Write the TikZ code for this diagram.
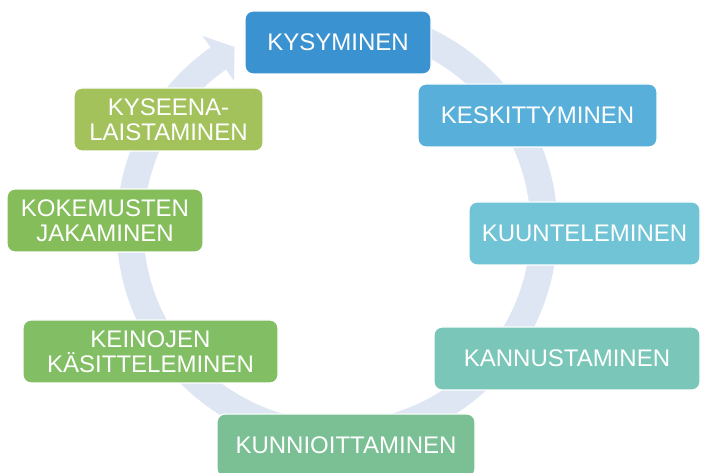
\documentclass[tikz,border=0pt]{standalone}
\usepackage{fontspec}
\setmainfont{Liberation Sans}
\usetikzlibrary{calc}
\definecolor{cA}{HTML}{3A93D0}
\definecolor{cB}{HTML}{58B0DA}
\definecolor{cC}{HTML}{70C4D6}
\definecolor{cD}{HTML}{7AC6B8}
\definecolor{cE}{HTML}{7AC094}
\definecolor{cF}{HTML}{82BE64}
\definecolor{cG}{HTML}{84BD5A}
\definecolor{cH}{HTML}{A3C25C}
\definecolor{ringc}{HTML}{DEE6F4}
\begin{document}
\begin{tikzpicture}[x=1pt,y=1pt,
  stepbox/.style={rounded corners=8pt, draw=white, line width=1.2pt, text=white,
    align=center, font=\fontsize{24}{25}\selectfont, inner sep=0pt,
    minimum height=63pt}]
\useasboundingbox (0,0) rectangle (701,473);
\coordinate (C) at (337,245);
% circular arrow
\fill[ringc] ($(C)+(75:220.5)$) arc[start angle=75, end angle=-235, radius=220.5]
  -- ($(C)+(-235:234.5)$) -- ($(C)+(119.5:208)$) -- ($(C)+(-235:179.5)$)
  -- ($(C)+(-235:193.5)$) arc[start angle=-235, end angle=75, radius=193.5] -- cycle;
% boxes
\node[stepbox, fill=cA, minimum width=186pt] (n1) at (338,430.5) {KYSYMINEN};
\node[stepbox, fill=cB, minimum width=239pt] (n2) at (537.5,357.5) {KESKITTYMINEN};
\node[stepbox, fill=cC, minimum width=231pt] (n3) at (584.5,239.5) {KUUNTELEMINEN};
\node[stepbox, fill=cD, minimum width=266pt] (n4) at (567,114.5) {KANNUSTAMINEN};
\node[stepbox, fill=cE, minimum width=258pt] (n5) at (346,27.5) {KUNNIOITTAMINEN};
\node[stepbox, fill=cF, minimum width=255pt] (n6) at (150.5,121.5) {KEINOJEN\\KÄSITTELEMINEN};
\node[stepbox, fill=cG, minimum width=196pt] (n7) at (105,252.5) {KOKEMUSTEN\\JAKAMINEN};
\node[stepbox, fill=cH, minimum width=189pt] (n8) at (168.5,353.5) {KYSEENA-\\LAISTAMINEN};
\end{tikzpicture}
\end{document}
